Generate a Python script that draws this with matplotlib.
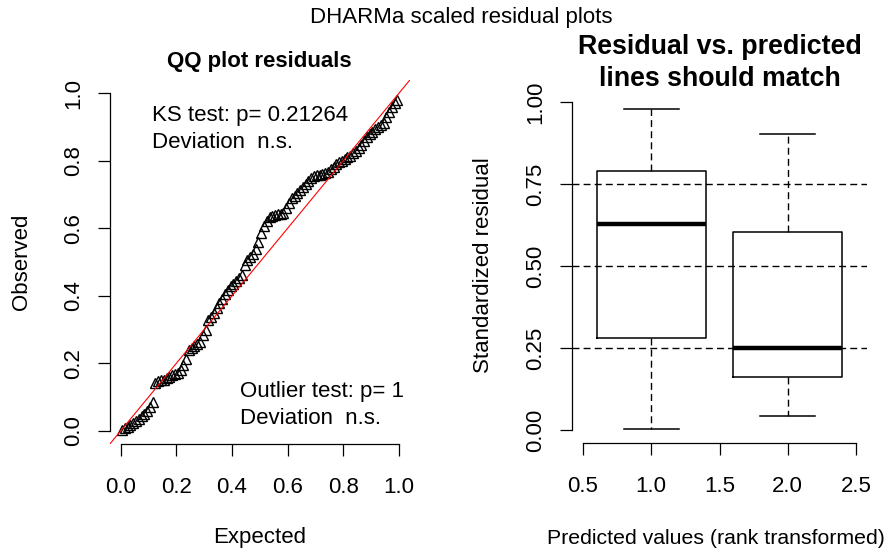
import matplotlib
matplotlib.use("Agg")
import matplotlib.pyplot as plt
import numpy as np

plt.rcParams["font.family"] = ["Liberation Sans", "DejaVu Sans"]

# sorted scaled residuals
observed = [
    0.003, 0.008, 0.012, 0.018, 0.022, 0.030, 0.036, 0.044, 0.050, 0.060,
    0.072, 0.084, 0.143, 0.147, 0.150, 0.152, 0.156, 0.160, 0.164, 0.168,
    0.172, 0.180, 0.196, 0.212, 0.238, 0.245, 0.250, 0.256, 0.262, 0.285,
    0.298, 0.328, 0.336, 0.350, 0.364, 0.380, 0.392, 0.405, 0.418, 0.428,
    0.436, 0.444, 0.452, 0.462, 0.490, 0.506, 0.515, 0.524, 0.540, 0.560,
    0.585, 0.606, 0.622, 0.634, 0.637, 0.639, 0.641, 0.643, 0.646, 0.660,
    0.676, 0.690, 0.697, 0.705, 0.714, 0.722, 0.730, 0.740, 0.750, 0.755,
    0.757, 0.759, 0.761, 0.763, 0.766, 0.775, 0.783, 0.792, 0.797, 0.800,
    0.804, 0.810, 0.815, 0.822, 0.830, 0.838, 0.848, 0.860, 0.870, 0.880,
    0.886, 0.893, 0.900, 0.906, 0.912, 0.930, 0.946, 0.960, 0.970, 0.980,
]

# box plot summaries per predicted-value group
groups = [1, 2]
q_low = [0.003, 0.042]
q1 = [0.280, 0.162]
q_med = [0.627, 0.250]
q3 = [0.790, 0.605]
q_high = [0.979, 0.903]
ref_levels = [0.25, 0.5, 0.75]

fig = plt.figure(figsize=(8.93, 5.51), dpi=100)
W, H = 893, 551


def fx(px):
    return px / W


def fy(py):
    return 1 - py / H


tick_kw = dict(direction="out", length=8.6, width=0.9, labelsize=16)
dash = (0, (5, 3))

# ---- QQ plot ----
ax1 = fig.add_axes([fx(109.6), fy(444.3), 300.4 / W, 364.5 / H])
n = len(observed)
expected = (np.arange(1, n + 1) - 0.5) / n
ax1.plot(expected, observed, linestyle="none", marker="^", markersize=7,
         markerfacecolor="none", markeredgecolor="black", markeredgewidth=1.0)
ax1.axline((0, 0), (1, 1), color="red", lw=0.8)
ax1.set_xlim(-0.04, 1.04)
ax1.set_ylim(-0.04, 1.04)
ticks = [0.0, 0.2, 0.4, 0.6, 0.8, 1.0]
ax1.set_xticks(ticks, [f"{t:.1f}" for t in ticks])
ax1.set_yticks(ticks, [f"{t:.1f}" for t in ticks])
for lab in ax1.get_yticklabels():
    lab.set_rotation(90)
    lab.set_va("center")
ax1.tick_params(axis="x", pad=15, **tick_kw)
ax1.tick_params(axis="y", pad=10, **tick_kw)
ax1.spines["top"].set_visible(False)
ax1.spines["right"].set_visible(False)
ax1.spines["bottom"].set_bounds(0, 1)
ax1.spines["left"].set_bounds(0, 1)
for s in ["bottom", "left"]:
    ax1.spines[s].set_linewidth(0.9)

fig.text(fx(152), fy(115), "KS test: p= 0.21264", fontsize=16, va="center")
fig.text(fx(152), fy(142), "Deviation  n.s.", fontsize=16, va="center")
fig.text(fx(240), fy(392), "Outlier test: p= 1", fontsize=16, va="center")
fig.text(fx(240), fy(419), "Deviation  n.s.", fontsize=16, va="center")

# ---- residual vs predicted ----
ax2 = fig.add_axes([fx(572), fy(443.1), 295 / W, 354.2 / H])
stats = []
for i in range(len(groups)):
    stats.append(dict(whislo=q_low[i], q1=q1[i], med=q_med[i], q3=q3[i],
                      whishi=q_high[i], fliers=[]))
ax2.bxp(stats, positions=groups, widths=0.8, capwidths=0.4, showfliers=False,
        boxprops=dict(color="black", lw=1.1),
        medianprops=dict(color="black", lw=3.2, solid_capstyle="butt"),
        whiskerprops=dict(color="black", lw=1.0, linestyle=dash),
        capprops=dict(color="black", lw=1.1))
for lv in ref_levels:
    ax2.axhline(lv, color="black", lw=1.0, linestyle=dash)
ax2.set_xlim(0.42, 2.58)
ax2.set_ylim(-0.04, 1.04)
xt = [0.5, 1.0, 1.5, 2.0, 2.5]
yt = [0.0, 0.25, 0.5, 0.75, 1.0]
ax2.set_xticks(xt, [f"{t:.1f}" for t in xt])
ax2.set_yticks(yt, [f"{t:.2f}" for t in yt])
for lab in ax2.get_yticklabels():
    lab.set_rotation(90)
    lab.set_va("center")
ax2.tick_params(axis="x", pad=15, **tick_kw)
ax2.tick_params(axis="y", pad=10, **tick_kw)
ax2.spines["top"].set_visible(False)
ax2.spines["right"].set_visible(False)
ax2.spines["bottom"].set_bounds(0.5, 2.5)
ax2.spines["left"].set_bounds(0, 1)
for s in ["bottom", "left"]:
    ax2.spines[s].set_linewidth(0.9)

# ---- titles and axis labels ----
fig.text(fx(461), fy(18), "DHARMa scaled residual plots", fontsize=16,
         ha="center", va="center")
fig.text(fx(259), fy(62), "QQ plot residuals", fontsize=16,
         fontweight="bold", ha="center", va="center")
fig.text(fx(720), fy(47), "Residual vs. predicted", fontsize=19.3,
         fontweight="bold", ha="center", va="center")
fig.text(fx(720), fy(79), "lines should match", fontsize=19.3,
         fontweight="bold", ha="center", va="center")
fig.text(fx(22), fy(262), "Observed", fontsize=16, rotation=90,
         ha="center", va="center")
fig.text(fx(483), fy(265), "Standardized residual", fontsize=16,
         rotation=90, ha="center", va="center")
fig.text(fx(260), fy(538), "Expected", fontsize=16, ha="center", va="center")
fig.text(fx(716), fy(538), "Predicted values (rank transformed)",
         fontsize=15.3, ha="center", va="center")

fig.savefig("out.png", dpi=100)
